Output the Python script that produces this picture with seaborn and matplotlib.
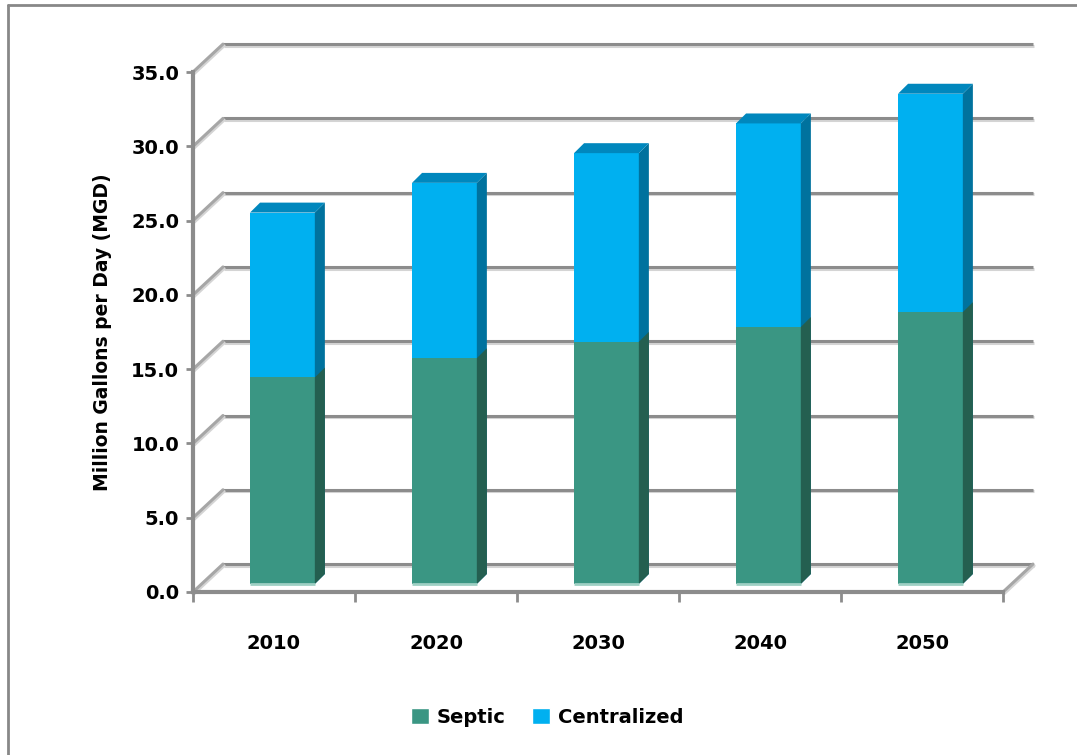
"""
Vazão de esgoto (MGD) por ano: séptico x centralizado, estilo coluna 3D do Excel
"""

import pandas as pd
import numpy as np
import matplotlib
matplotlib.use('Agg')
import matplotlib.pyplot as plt
import matplotlib.patheffects as pe
from matplotlib.patches import Polygon, Patch
from matplotlib.lines import Line2D
import seaborn as sns

# Dados
anos = ['2010', '2020', '2030', '2040', '2050']
septic = [13.9, 15.2, 16.3, 17.3, 18.3]
centralized = [11.1, 11.8, 12.7, 13.7, 14.7]
yticks = [0, 5, 10, 15, 20, 25, 30, 35]

df = pd.DataFrame({'ano': anos, 'Septic': septic, 'Centralized': centralized})
df['total'] = df['Septic'] + df['Centralized']

cor_septic = '#3a9683'
cor_septic_lado = '#245f50'
cor_central = '#00b0f0'
cor_central_lado = '#00729e'
cor_central_topo = '#0087bd'
cor_grade = '#8c8c8c'

sns.set_theme(style='white')
plt.rcParams['font.family'] = ['DejaVu Sans']
plt.rcParams['font.weight'] = 'bold'
plt.rcParams['text.color'] = 'black'
plt.rcParams['axes.labelcolor'] = 'black'
plt.rcParams['xtick.labelcolor'] = 'black'
plt.rcParams['ytick.labelcolor'] = 'black'

fig, ax = plt.subplots(figsize=(10.77, 7.55), dpi=100)
fig.subplots_adjust(left=0.1792, right=0.9313, bottom=0.2159, top=0.9046)

# deslocamentos do "3D" (unidades de dados)
fx, fy = 0.052, 0.54   # face frontal da barra
sx, sy = 0.062, 0.67   # profundidade da barra
bx, by = 0.185, 1.88   # parede do fundo

sombra = [pe.SimpleLineShadow(offset=(0.8, -1.2), shadow_color='#d4d4d4', alpha=1), pe.Normal()]

# Grade no fundo + ligações diagonais
for v in yticks:
    ax.plot([-0.5 + bx, 4.5 + bx], [v + by, v + by], color=cor_grade, lw=2.2,
            zorder=0, clip_on=False, path_effects=sombra, solid_capstyle='butt')
    ax.plot([-0.5, -0.5 + bx], [v, v + by], color='#a6a6a6', lw=2.2,
            zorder=0, clip_on=False, path_effects=sombra)
ax.plot([4.5, 4.5 + bx], [0, by], color='#a6a6a6', lw=2.2, zorder=0,
        clip_on=False, path_effects=sombra)

# Barras empilhadas
sns.barplot(data=df, x='ano', y='total', color=cor_central, width=0.4,
            saturation=1, errorbar=None, ax=ax)
sns.barplot(data=df, x='ano', y='Septic', color=cor_septic, width=0.4,
            saturation=1, errorbar=None, ax=ax)

n = len(anos)
for i, p in enumerate(list(ax.patches)):
    serie_total = i < n
    p.set_x(p.get_x() + fx)
    p.set_y(p.get_y() + fy)
    p.set_linewidth(0)
    z = 3 if serie_total else 4
    p.set_zorder(z)
    x0, y0, w, h = p.get_x(), p.get_y(), p.get_width(), p.get_height()
    lado = [(x0 + w, y0), (x0 + w + sx, y0 + sy), (x0 + w + sx, y0 + h + sy), (x0 + w, y0 + h)]
    ax.add_patch(Polygon(lado, closed=True, lw=0, zorder=z,
                         facecolor=cor_central_lado if serie_total else cor_septic_lado))
    if serie_total:
        topo = [(x0, y0 + h), (x0 + sx, y0 + h + sy), (x0 + w + sx, y0 + h + sy), (x0 + w, y0 + h)]
        ax.add_patch(Polygon(topo, closed=True, lw=0, zorder=z, facecolor=cor_central_topo))
    else:
        ax.plot([x0, x0 + w], [y0, y0], color='#9fd0c4', lw=2, zorder=z + 0.1,
                solid_capstyle='butt')

ax.set_xlim(-0.5, 4.5)
ax.set_ylim(0, 35)

# Eixos
for lado in ['top', 'right']:
    ax.spines[lado].set_visible(False)
for lado in ['left', 'bottom']:
    ax.spines[lado].set_color(cor_grade)
    ax.spines[lado].set_linewidth(3)

ax.set_yticks(yticks)
ax.set_yticklabels([f'{v:.1f}' for v in yticks])
ax.tick_params(axis='y', left=True, length=5, width=2, color=cor_grade,
               labelsize=14, pad=5)
ax.set_xticks(range(n))
ax.set_xticklabels(anos)
ax.set_xticks(np.arange(-0.5, n, 1), minor=True)
ax.tick_params(axis='x', which='major', length=0, labelsize=14, pad=30)
ax.tick_params(axis='x', which='minor', bottom=True, length=7, width=2, color=cor_grade)
ax.set_xlabel('')
ax.set_ylabel('Million Gallons per Day (MGD)', fontsize=13.5, fontweight='bold', labelpad=14)

# Legenda
handles = [Patch(facecolor=cor_septic, label='Septic'),
           Patch(facecolor=cor_central, label='Centralized')]
fig.legend(handles=handles, loc='center', bbox_to_anchor=(0.508, 0.05), ncol=2,
           frameon=False, fontsize=14, handlelength=0.9, handleheight=0.9,
           handletextpad=0.4, columnspacing=1.4)

# Borda do gráfico
fig.add_artist(Line2D([0.0074, 0.0074], [0, 0.9934], color='#888888', lw=2))
fig.add_artist(Line2D([0.0074, 1], [0.9934, 0.9934], color='#888888', lw=2))

plt.savefig('out.png', dpi=100)
